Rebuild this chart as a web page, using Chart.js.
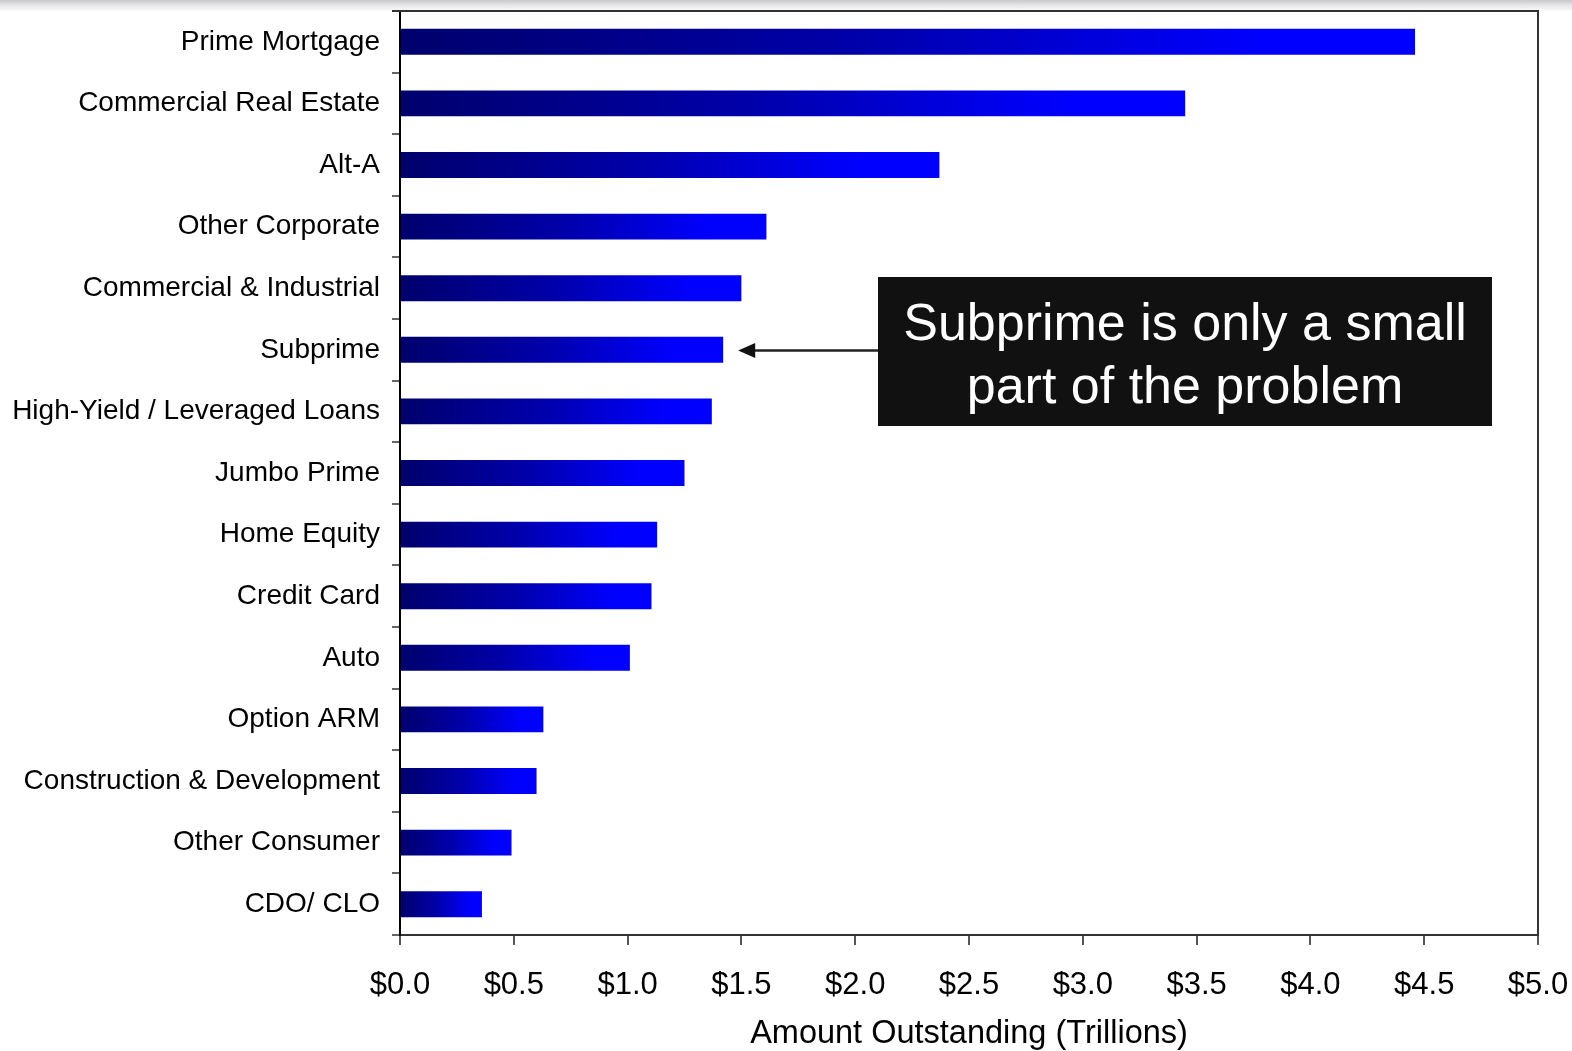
<!DOCTYPE html>
<html>
<head>
<meta charset="utf-8">
<script src="https://cdn.jsdelivr.net/npm/chart.js@4/dist/chart.umd.min.js"></script>
<style>
  html, body { margin: 0; padding: 0; }
  body {
    width: 1572px; height: 1051px; overflow: hidden;
    background-color: #fff;
    background-image: linear-gradient(to bottom, #c8c8ca 0px, #e4e4e6 5px, #ffffff 12px);
    background-repeat: no-repeat;
    background-size: 100% 14px;
  }
  canvas { display: block; }
</style>
</head>
<body>
<canvas id="chart" width="1572" height="1051"></canvas>
<script>
// Loan categories, largest to smallest
const categories = [
  'Prime Mortgage',
  'Commercial Real Estate',
  'Alt-A',
  'Other Corporate',
  'Commercial & Industrial',
  'Subprime',
  'High-Yield / Leveraged Loans',
  'Jumbo Prime',
  'Home Equity',
  'Credit Card',
  'Auto',
  'Option ARM',
  'Construction & Development',
  'Other Consumer',
  'CDO/ CLO'
];

// Amount outstanding, trillions of dollars
const outstanding = [4.46, 3.45, 2.37, 1.61, 1.50, 1.42, 1.37, 1.25, 1.13, 1.105, 1.01, 0.63, 0.60, 0.49, 0.36];

// Axis ticks and labels
const xTicks = [0, 0.5, 1.0, 1.5, 2.0, 2.5, 3.0, 3.5, 4.0, 4.5, 5.0];
const xTitle = 'Amount Outstanding (Trillions)';
const calloutLines = ['Subprime is only a small', 'part of the problem'];
const calloutTarget = 'Subprime';

const FONT = '"Liberation Sans", Arial, Helvetica, sans-serif';

// Each bar fades from navy at the axis to pure blue near its end
function barGradient(ctx) {
  const chart = ctx.chart;
  if (!chart.chartArea || ctx.raw === undefined) return '#0000ff';
  const xs = chart.scales.x;
  const x0 = xs.getPixelForValue(0);
  const x1 = xs.getPixelForValue(ctx.raw);
  const g = chart.ctx.createLinearGradient(x0, 0, x1, 0);
  g.addColorStop(0, 'rgb(0,0,108)');
  g.addColorStop(0.45, 'rgb(0,0,170)');
  g.addColorStop(0.85, 'rgb(0,0,255)');
  g.addColorStop(1, 'rgb(0,0,255)');
  return g;
}

// Top and right edges of the plot frame
const framePlugin = {
  id: 'frame',
  afterDraw(chart) {
    const { ctx, chartArea: a } = chart;
    ctx.save();
    ctx.strokeStyle = '#333';
    ctx.lineWidth = 2;
    ctx.beginPath();
    ctx.moveTo(a.left - 8, a.top);
    ctx.lineTo(a.right, a.top);
    ctx.lineTo(a.right, a.bottom);
    ctx.stroke();
    ctx.restore();
  }
};

// Black callout box with an arrow pointing at the Subprime bar
const calloutPlugin = {
  id: 'callout',
  afterDraw(chart) {
    const { ctx } = chart;
    const xs = chart.scales.x, ys = chart.scales.y;
    const i = categories.indexOf(calloutTarget);
    const ay = Math.round(ys.getPixelForValue(i)) + 0.5;
    const tipX = xs.getPixelForValue(outstanding[i]) + 15;

    const box = { left: 878, top: 277, right: 1492, bottom: 426 };
    ctx.save();
    ctx.fillStyle = '#111111';
    ctx.fillRect(box.left, box.top, box.right - box.left, box.bottom - box.top);

    ctx.fillStyle = '#ffffff';
    ctx.font = '52px ' + FONT;
    ctx.textAlign = 'center';
    ctx.textBaseline = 'alphabetic';
    const cx = (box.left + box.right) / 2;
    ctx.fillText(calloutLines[0], cx, 340);
    ctx.fillText(calloutLines[1], cx, 403);

    // arrow shaft
    ctx.strokeStyle = '#222';
    ctx.lineWidth = 2.5;
    ctx.beginPath();
    ctx.moveTo(box.left, ay);
    ctx.lineTo(tipX + 14, ay);
    ctx.stroke();
    // arrow head
    ctx.fillStyle = '#111';
    ctx.beginPath();
    ctx.moveTo(tipX, ay);
    ctx.lineTo(tipX + 17, ay - 7.5);
    ctx.lineTo(tipX + 17, ay + 7.5);
    ctx.closePath();
    ctx.fill();
    ctx.restore();
  }
};

new Chart(document.getElementById('chart'), {
  type: 'bar',
  data: {
    labels: categories,
    datasets: [{
      data: outstanding,
      backgroundColor: barGradient,
      borderWidth: 0,
      barPercentage: 0.42,
      categoryPercentage: 1.0
    }]
  },
  options: {
    indexAxis: 'y',
    responsive: false,
    animation: false,
    layout: { padding: { left: 0, right: 34, top: 11, bottom: 0 } },
    plugins: {
      legend: { display: false },
      tooltip: { enabled: false }
    },
    scales: {
      x: {
        type: 'linear',
        position: 'bottom',
        min: 0,
        max: 5,
        afterBuildTicks(scale) { scale.ticks = xTicks.map(v => ({ value: v })); },
        afterFit(scale) {
          scale.height = 116;
          scale.paddingLeft = 0;
          scale.paddingRight = 0;
        },
        ticks: {
          autoSkip: false,
          maxRotation: 0,
          padding: 22,
          color: '#000',
          font: { family: FONT, size: 31 },
          callback: v => '$' + Number(v).toFixed(1)
        },
        grid: { drawOnChartArea: false, drawTicks: true, tickLength: 10, color: '#555', lineWidth: 2 },
        border: { display: true, color: '#333', width: 2 },
        title: {
          display: true,
          text: xTitle,
          color: '#000',
          font: { family: FONT, size: 32.5 },
          padding: { top: 0, bottom: -3 }
        }
      },
      y: {
        type: 'category',
        afterFit(scale) {
          scale.width = 400;
          scale.paddingTop = 0;
          scale.paddingBottom = 0;
        },
        ticks: {
          padding: 12,
          color: '#000',
          font: { family: FONT, size: 28 }
        },
        grid: { drawOnChartArea: false, drawTicks: true, tickLength: 8, color: '#666', lineWidth: 2, offset: true },
        border: { display: true, color: '#000', width: 2 }
      }
    }
  },
  plugins: [framePlugin, calloutPlugin]
});
</script>
</body>
</html>
